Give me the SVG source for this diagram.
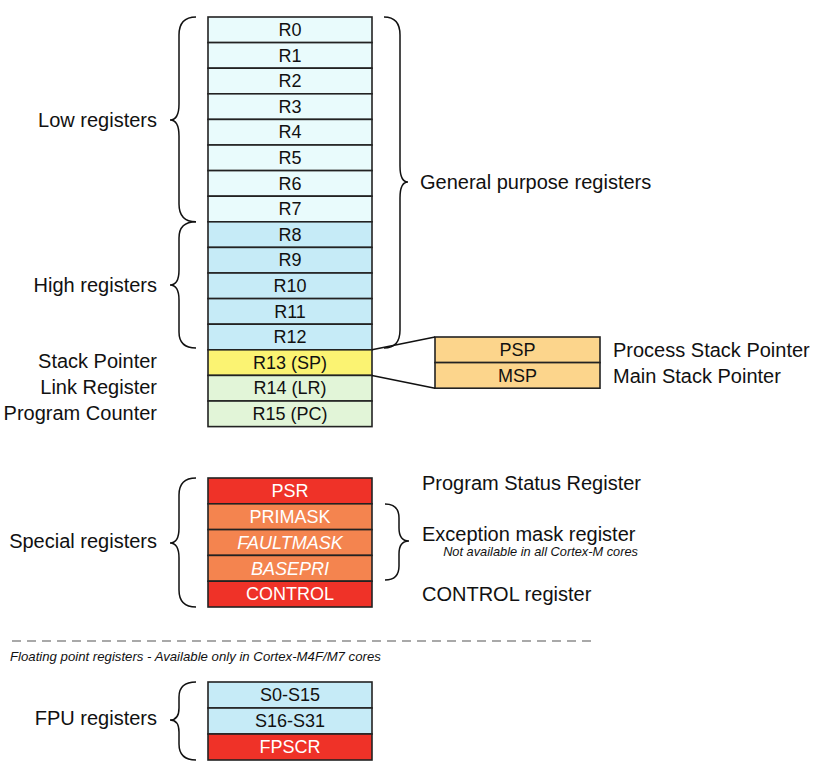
<svg xmlns="http://www.w3.org/2000/svg" width="818" height="768" viewBox="0 0 818 768">
<style>
text{font-family:"Liberation Sans",Arial,sans-serif;fill:#111}
.reg{stroke:#222;stroke-width:1.6}
.rt{font-size:18px;text-anchor:middle}
.wt{fill:#fff}
.it{font-style:italic}
.lbl{font-size:20px}
.le{text-anchor:end}
.brace{fill:none;stroke:#111;stroke-width:1.5}
.low{fill:#e9fbfc}.high{fill:#c6ebf7}.sp{fill:#fbf372}.lr{fill:#e2f5d8}.stk{fill:#fcd58c}.red{fill:#ef3228}.org{fill:#f4844f}
</style>
<rect width="818" height="768" fill="#fff"/>
<g id="core-registers">
<g id="R0"><rect class="reg low" x="208" y="17" width="164" height="25.6"/><text class="rt" x="290" y="36">R0</text></g>
<g id="R1"><rect class="reg low" x="208" y="42.6" width="164" height="25.6"/><text class="rt" x="290" y="61.6">R1</text></g>
<g id="R2"><rect class="reg low" x="208" y="68.2" width="164" height="25.6"/><text class="rt" x="290" y="87.2">R2</text></g>
<g id="R3"><rect class="reg low" x="208" y="93.8" width="164" height="25.6"/><text class="rt" x="290" y="112.8">R3</text></g>
<g id="R4"><rect class="reg low" x="208" y="119.4" width="164" height="25.6"/><text class="rt" x="290" y="138.4">R4</text></g>
<g id="R5"><rect class="reg low" x="208" y="145" width="164" height="25.6"/><text class="rt" x="290" y="164">R5</text></g>
<g id="R6"><rect class="reg low" x="208" y="170.6" width="164" height="25.6"/><text class="rt" x="290" y="189.6">R6</text></g>
<g id="R7"><rect class="reg low" x="208" y="196.2" width="164" height="25.6"/><text class="rt" x="290" y="215.2">R7</text></g>
<g id="R8"><rect class="reg high" x="208" y="221.8" width="164" height="25.6"/><text class="rt" x="290" y="240.8">R8</text></g>
<g id="R9"><rect class="reg high" x="208" y="247.4" width="164" height="25.6"/><text class="rt" x="290" y="266.4">R9</text></g>
<g id="R10"><rect class="reg high" x="208" y="273" width="164" height="25.6"/><text class="rt" x="290" y="292">R10</text></g>
<g id="R11"><rect class="reg high" x="208" y="298.6" width="164" height="25.6"/><text class="rt" x="290" y="317.6">R11</text></g>
<g id="R12"><rect class="reg high" x="208" y="324.2" width="164" height="25.6"/><text class="rt" x="290" y="343.2">R12</text></g>
<g id="R13"><rect class="reg sp" x="208" y="349.8" width="164" height="25.6"/><text class="rt" x="290" y="368.8">R13 (SP)</text></g>
<g id="R14"><rect class="reg lr" x="208" y="375.4" width="164" height="25.6"/><text class="rt" x="290" y="394.4">R14 (LR)</text></g>
<g id="R15"><rect class="reg lr" x="208" y="401" width="164" height="25.6"/><text class="rt" x="290" y="420">R15 (PC)</text></g>
</g>
<g id="stack-pointers">
<g id="PSP"><rect class="reg stk" x="435" y="337" width="165" height="25.6"/><text class="rt" x="517.5" y="356">PSP</text></g>
<g id="MSP"><rect class="reg stk" x="435" y="362.6" width="165" height="25.6"/><text class="rt" x="517.5" y="381.6">MSP</text></g>
</g>
<g id="special-registers">
<g id="PSR"><rect class="reg red" x="208" y="478" width="164" height="25.8"/><text class="rt wt" x="290" y="497.2">PSR</text></g>
<g id="PRIMASK"><rect class="reg org" x="208" y="503.8" width="164" height="25.8"/><text class="rt wt" x="290" y="523">PRIMASK</text></g>
<g id="FAULTMASK"><rect class="reg org" x="208" y="529.6" width="164" height="25.8"/><text class="rt wt it" x="290" y="548.8">FAULTMASK</text></g>
<g id="BASEPRI"><rect class="reg org" x="208" y="555.4" width="164" height="25.8"/><text class="rt wt it" x="290" y="574.6">BASEPRI</text></g>
<g id="CONTROL"><rect class="reg red" x="208" y="581.2" width="164" height="25.8"/><text class="rt wt" x="290" y="600.4">CONTROL</text></g>
</g>
<g id="fpu-registers">
<g id="S0-S15"><rect class="reg high" x="208" y="682" width="164" height="26"/><text class="rt" x="290" y="701.2">S0-S15</text></g>
<g id="S16-S31"><rect class="reg high" x="208" y="708" width="164" height="26"/><text class="rt" x="290" y="727.2">S16-S31</text></g>
<g id="FPSCR"><rect class="reg red" x="208" y="734" width="164" height="26"/><text class="rt wt" x="290" y="753.2">FPSCR</text></g>
</g>
<g id="connectors">
<path class="brace" d="M196,17 Q179,17 179,35 L179,104 Q179,120 170,120 Q179,120 179,136 L179,204 Q179,221.8 196,221.8"/>
<path class="brace" d="M196,221.8 Q179,221.8 179,238 L179,270 Q179,285 170,285 Q179,285 179,300 L179,332 Q179,348 196,348"/>
<path class="brace" d="M384,17 Q400,17 400,35 L400,166 Q400,182 408,182 Q400,182 400,198 L400,330 Q400,348 384,348"/>
<path class="brace" d="M196,478 Q179,478 179,495 L179,528 Q179,543 170,543 Q179,543 179,558 L179,590 Q179,607 196,607"/>
<path class="brace" d="M385,504 Q399,504 399,518 L399,528 Q399,541 409,541 Q399,541 399,554 L399,566 Q399,580 385,580"/>
<path class="brace" d="M196,682 Q179,682 179,697 L179,708 Q179,720 170,720 Q179,720 179,732 L179,744 Q179,760 196,760"/>
<line x1="372" y1="349.8" x2="435" y2="337" stroke="#111" stroke-width="1.5"/>
<line x1="372" y1="375.4" x2="435" y2="388.2" stroke="#111" stroke-width="1.5"/>
<line x1="12" y1="641" x2="596" y2="641" stroke="#555" stroke-width="1.2" stroke-dasharray="9 6"/>
</g>
<g id="labels">
<text class="lbl le" x="157" y="127">Low registers</text>
<text class="lbl le" x="157" y="292">High registers</text>
<text class="lbl" x="420" y="189">General purpose registers</text>
<text class="lbl le" x="157" y="368">Stack Pointer</text>
<text class="lbl le" x="157" y="394">Link Register</text>
<text class="lbl le" x="157" y="420">Program Counter</text>
<text class="lbl" x="613" y="357">Process Stack Pointer</text>
<text class="lbl" x="613" y="383">Main Stack Pointer</text>
<text class="lbl" x="422" y="490">Program Status Register</text>
<text class="lbl" x="422" y="541">Exception mask register</text>
<text class="it le" x="638" y="556" font-size="12.8">Not available in all Cortex-M cores</text>
<text class="lbl" x="422" y="601">CONTROL register</text>
<text class="lbl le" x="157" y="548">Special registers</text>
<text class="it" x="10" y="661" font-size="13.2">Floating point registers - Available only in Cortex-M4F/M7 cores</text>
<text class="lbl le" x="157" y="725">FPU registers</text>
</g>
</svg>
